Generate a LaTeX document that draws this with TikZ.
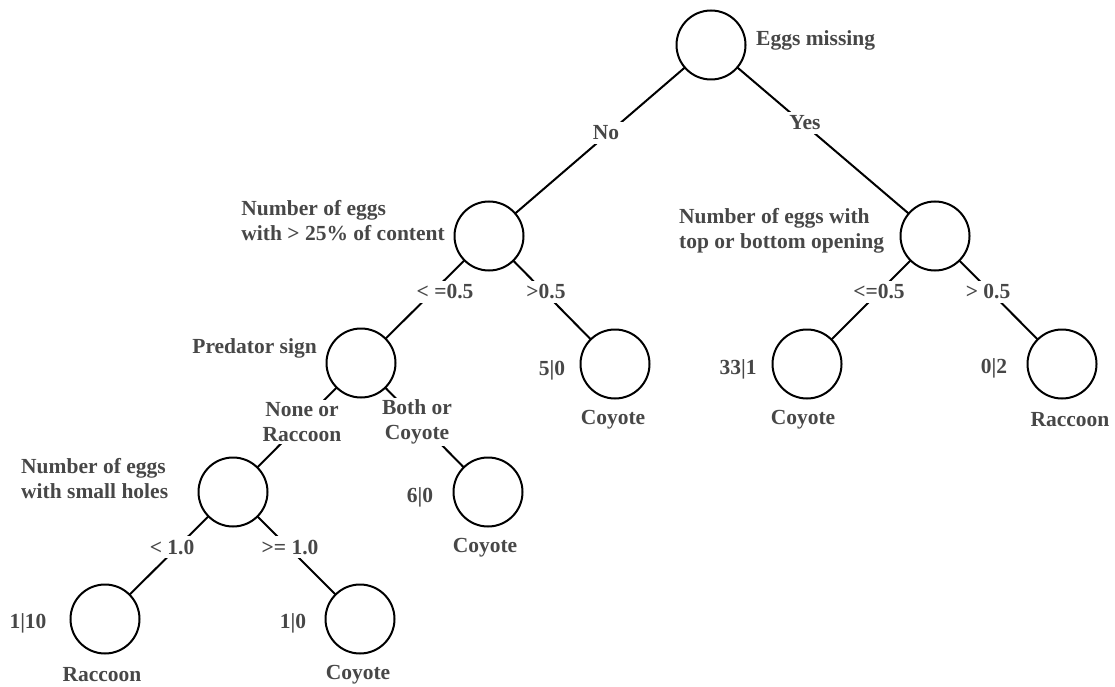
\documentclass[tikz,border=0pt]{standalone}
\usepackage{fontspec}
\setmainfont{Liberation Serif}
\usetikzlibrary{backgrounds}
\begin{document}
\begin{tikzpicture}[x=1pt,y=-1pt,
  dnode/.style={circle,draw=black,line width=2pt,minimum size=69pt,inner sep=0pt,outer sep=0pt},
  txt/.style={font=\fontsize{21.5}{25}\selectfont\bfseries,text=black!72,inner sep=1pt},
  elab/.style={txt,fill=white,inner sep=4pt},
  edge/.style={line width=2pt,draw=black}]
\useasboundingbox (0,0) rectangle (1115,687);
% edge labels (white boxes that break the connectors)
\node[elab] (eno) at (606,133) {No};
\node[elab] (eyes) at (805,123) {Yes};
\node[elab] (ea1) at (445,292) {< =0.5};
\node[elab] (ea2) at (546,292) {>0.5};
\node[elab] (eb1) at (879,292) {<=0.5};
\node[elab] (eb2) at (988,292) {> 0.5};
\node[elab,align=center,inner sep=2pt] (ep1) at (302,422) {None or\\Raccoon};
\node[elab,align=center,inner sep=2pt] (ep2) at (417,422) {Both or\\Coyote};
\node[elab] (eh1) at (172,547) {< 1.0};
\node[elab] (eh2) at (290,547) {>= 1.0};
% decision / leaf nodes
\node[dnode] (root) at (711,45) {};
\node[dnode] (a) at (489,236) {};
\node[dnode] (b) at (935,236) {};
\node[dnode] (pred) at (361,363) {};
\node[dnode] (c50) at (615,364) {};
\node[dnode] (c331) at (807,364) {};
\node[dnode] (r02) at (1062,364) {};
\node[dnode] (holes) at (233,492) {};
\node[dnode] (c60) at (488,492) {};
\node[dnode] (r110) at (105,619) {};
\node[dnode] (c10) at (360,619) {};
% node labels
\node[txt,anchor=west] (troot) at (755,40) {Eggs missing};
\node[txt,anchor=east,align=left] (ta) at (446,221) {Number of eggs\\with > 25\% of content};
\node[txt,anchor=west,align=left] (tb) at (678,231) {Number of eggs with\\top or bottom opening};
\node[txt,anchor=east] (tpred) at (318,348) {Predator sign};
\node[txt,anchor=west,align=left] (tholes) at (20,479) {Number of eggs\\with small holes};
% counts
\node[txt] (n50) at (552,370) {5|0};
\node[txt] (n331) at (738,369) {33|1};
\node[txt] (n02) at (994,368) {0|2};
\node[txt] (n60) at (420,497) {6|0};
\node[txt] (n110) at (28,623) {1|10};
\node[txt] (n10) at (293,623) {1|0};
% classes
\node[txt] (k50) at (613,420) {Coyote};
\node[txt] (k331) at (803,420) {Coyote};
\node[txt] (k02) at (1070,420) {Raccoon};
\node[txt] (k60) at (485,548) {Coyote};
\node[txt] (k110) at (102,675) {Raccoon};
\node[txt] (k10) at (358,675) {Coyote};
% connectors
\begin{scope}[on background layer]
\draw[edge] (root) -- (a);
\draw[edge] (root) -- (b);
\draw[edge] (a) -- (pred);
\draw[edge] (a) -- (c50);
\draw[edge] (b) -- (c331);
\draw[edge] (b) -- (r02);
\draw[edge] (pred) -- (holes);
\draw[edge] (pred) -- (c60);
\draw[edge] (holes) -- (r110);
\draw[edge] (holes) -- (c10);
\end{scope}
\end{tikzpicture}
\end{document}
